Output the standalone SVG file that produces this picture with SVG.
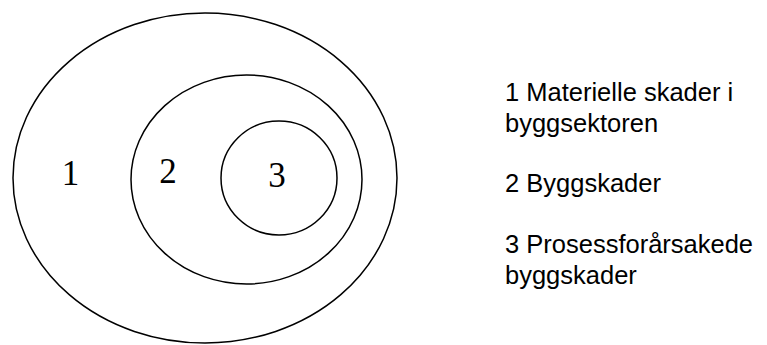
<svg xmlns="http://www.w3.org/2000/svg" width="767" height="345" viewBox="0 0 767 345">
<style>
.ring{fill:none;stroke:#000;stroke-width:1.5}
.num{font-family:"Liberation Serif","Times New Roman",serif;font-size:35px;fill:#000;text-anchor:middle}
.leg{font-family:"Liberation Sans",Arial,sans-serif;font-size:25.5px;fill:#000}
</style>
<rect width="767" height="345" fill="#fff"/>
<g id="zone1">
<ellipse class="ring" cx="205" cy="178" rx="192" ry="165"/>
<text class="num" x="70.5" y="185">1</text>
</g>
<g id="zone2">
<ellipse class="ring" cx="246.5" cy="179.5" rx="115.5" ry="104.5"/>
<text class="num" x="168" y="183">2</text>
</g>
<g id="zone3">
<ellipse class="ring" cx="279" cy="178" rx="58" ry="57"/>
<text class="num" x="277" y="187">3</text>
</g>
<g id="connectors"/>
<g id="legend">
<text class="leg" x="505" y="101">1 Materielle skader i</text>
<text class="leg" x="505" y="132">byggsektoren</text>
<text class="leg" x="505" y="192">2 Byggskader</text>
<text class="leg" x="505" y="253">3 Prosessforårsakede</text>
<text class="leg" x="505" y="284">byggskader</text>
</g>
</svg>
